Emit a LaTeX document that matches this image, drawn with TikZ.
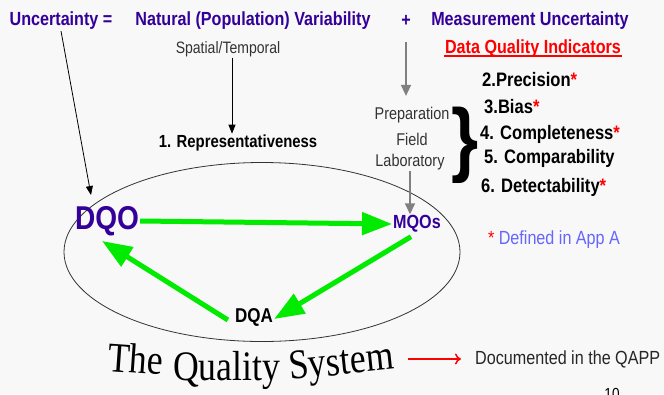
\documentclass[tikz,border=0pt]{standalone}
\usepackage{fontspec}
\usepackage{tikz}
\usetikzlibrary{arrows.meta,shapes.geometric}
\setmainfont{Liberation Sans}[FakeStretch=0.85]
\newfontfamily\qsfont{Liberation Serif}[FakeStretch=0.85]
\definecolor{indigo}{RGB}{51,0,153}
\definecolor{brightgreen}{RGB}{0,235,0}
\definecolor{appblue}{RGB}{102,102,255}
\definecolor{slidebg}{RGB}{248,248,248}

\begin{document}
\begin{tikzpicture}[x=1pt,y=-1pt,
    head/.style={font=\fontsize{19}{22}\selectfont\bfseries,text=indigo,inner sep=1pt},
    plain/.style={font=\fontsize{17}{20}\selectfont,text=black!80,inner sep=1pt},
    item/.style={font=\fontsize{19.5}{22}\selectfont\bfseries,anchor=west,inner sep=0pt},
    qstitle/.style={font=\qsfont\fontsize{42}{44}\selectfont,inner sep=0pt},
    qsloop/.style={draw=brightgreen,line width=5pt,-{Triangle[length=30pt,width=22pt]}},
    greyarr/.style={draw=gray,line width=1.5pt,-{Triangle[length=11pt,width=10pt]}},
    thinarr/.style={draw=black,line width=0.8pt,-{Triangle[length=9pt,width=7pt]}}]

    % Background
    \fill[slidebg] (0,0) rectangle (664,394);
    \useasboundingbox (0,0) rectangle (664,394);

    % Top line
    \node[head] (unc) at (61,21) {Uncertainty =};
    \node[head] (nat) at (253,21) {Natural (Population) Variability};
    \node[head] (plus) at (406,21) {+};
    \node[head] (meas) at (530,21) {Measurement Uncertainty};
    \node[head,text=red] (dqi) at (533,49) {Data Quality Indicators};
    \draw[red,line width=1.2pt] ([yshift=-2pt]dqi.base west) -- ([yshift=-2pt]dqi.base east);

    % Natural variability
    \node[plain,font=\fontsize{16.5}{20}\selectfont] (spt) at (228,49) {Spatial/Temporal};
    \node[font=\fontsize{17.5}{20}\selectfont\bfseries,inner sep=1pt] (rep) at (238,143) {1. Representativeness};
    \draw[thinarr] ([xshift=4pt]spt.south) -- ([xshift=4pt]spt.south |- rep.north);

    % Measurement
    \node[plain] (prep) at (412,115) {Preparation};
    \node[plain] (field) at (412,139) {Field};
    \node[plain] (lab) at (410,162) {Laboratory};
    \node[font=\fontsize{82}{82}\selectfont\bfseries,inner sep=0pt] (brc) at (465,145) {\}};
    \draw[greyarr,shorten <=14pt,shorten >=10pt] (plus.south) -- (plus.south |- prep.north);

    % Indicators
    \foreach \n/\x/\y/\lbl/\mk in {2/482/80/2.Precision/1, 3/484/107/3.Bias/1,
        4/480/134/4. Completeness/1, 5/484/158/5. Comparability/0, 6/481/187/6. Detectability/1}
    {
        \node[item] (ind\n) at (\x,\y) {\lbl\ifnum\mk=1 \textcolor{red}{*}\fi};
    }
    \node[font=\fontsize{19}{22}\selectfont,text=appblue,inner sep=1pt] (defn) at (554,240) {\textcolor{red}{*} Defined in App A};

    % Quality system
    \node[draw=black!80,line width=0.8pt,ellipse,minimum width=396pt,minimum height=179pt,inner sep=0pt] (qs) at (262,252) {};
    \node[head,font=\fontsize{33}{36}\selectfont\bfseries] (dqo) at (107,221) {DQO};
    \node[head] (mqo) at (417,224) {MQOs};
    \node[font=\fontsize{20}{22}\selectfont\bfseries,inner sep=1pt] (dqa) at (254,317) {DQA};

    \draw[thinarr] (unc.south) -- ([xshift=-16pt,yshift=10pt]dqo.north);
    \draw[greyarr] (lab.south) -- (lab.south |- mqo.north);

    \draw[qsloop] (dqo.east) -- (mqo.west);
    \draw[qsloop] ([xshift=-6pt,yshift=-3pt]mqo.south) -- ([yshift=-2pt]dqa.east);
    \draw[qsloop] ([xshift=-6pt,yshift=-3pt]dqa.west) -- ([xshift=-5pt,yshift=-4pt]dqo.south);

    % Title
    \node[qstitle,anchor=base west,rotate=-4] (the) at (107,371) {The};
    \node[qstitle,anchor=base west] (quality) at (173,380) {Quality};
    \node[qstitle,anchor=base west,rotate=6] (system) at (290,380) {System};

    \node[plain,font=\fontsize{19}{22}\selectfont,anchor=west,text=black!85] (doc) at (474,359) {Documented in the QAPP};
    \draw[red,line width=1.5pt,-{To[length=6pt,width=11pt]},shorten <=14pt,shorten >=13pt] (system.east |- doc.west) -- (doc.west);

    % Page number
    \node[font=\fontsize{16}{18}\selectfont,anchor=north,inner sep=0pt] (pg) at (612,388) {10};
\end{tikzpicture}
\end{document}
